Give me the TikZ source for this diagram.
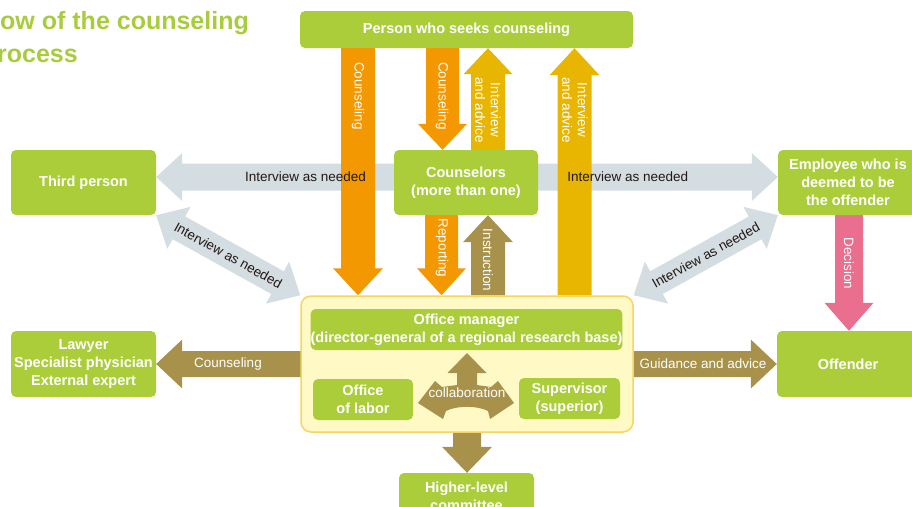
\documentclass[tikz,border=0pt]{standalone}
\usepackage{fontspec}
\setmainfont{Liberation Sans}
\usetikzlibrary{calc,backgrounds}
\definecolor{gbox}{HTML}{ABCD3A}
\definecolor{ttl}{HTML}{A9CC3D}
\definecolor{orng}{HTML}{F39800}
\definecolor{gold}{HTML}{E8B600}
\definecolor{tanc}{HTML}{A8924B}
\definecolor{gry}{HTML}{D4DDE2}
\definecolor{pnk}{HTML}{EA6E8E}
\definecolor{yfill}{HTML}{FFF9C6}
\definecolor{yline}{HTML}{F8D462}
\definecolor{ink}{HTML}{231815}
% #1 colour, #2 from, #3 to (tip), #4 half shaft, #5 half head, #6 head length
\newcommand\blockarr[6]{%
  \coordinate (bac) at ($(#3)!#6!(#2)$);
  \fill[#1] ($(#2)!#4!90:(#3)$) -- ($(bac)!#4!90:(#3)$) -- ($(bac)!#5!90:(#3)$) -- (#3)
    -- ($(bac)!#5!-90:(#3)$) -- ($(bac)!#4!-90:(#3)$) -- ($(#2)!#4!-90:(#3)$) -- cycle;}
\newcommand\dblockarr[6]{%
  \coordinate (bac) at ($(#3)!#6!(#2)$);
  \coordinate (bad) at ($(#2)!#6!(#3)$);
  \fill[#1] (#2) -- ($(bad)!#5!90:(#3)$) -- ($(bad)!#4!90:(#3)$) -- ($(bac)!#4!90:(#3)$)
    -- ($(bac)!#5!90:(#3)$) -- (#3) -- ($(bac)!#5!-90:(#3)$) -- ($(bac)!#4!-90:(#3)$)
    -- ($(bad)!#4!-90:(#3)$) -- ($(bad)!#5!-90:(#3)$) -- cycle;}
\begin{document}
\begin{tikzpicture}[x=1pt,y=-1pt,
  gb/.style={fill=gbox, rounded corners=5pt, text=white, font=\fontsize{14.5}{18}\selectfont\bfseries, align=center, inner sep=0pt},
  wl/.style={text=white, font=\fontsize{13.5}{15.5}\selectfont, align=center, inner sep=0pt},
  bl/.style={text=ink, font=\fontsize{13.5}{15.5}\selectfont, inner sep=0pt},
  vl/.style={wl, rotate=-90},
  ttlstyle/.style={anchor=base west, inner sep=0pt, text=ttl, font=\fontsize{25}{30}\selectfont\bfseries}]
\useasboundingbox (0,0) rectangle (912,506);
\clip (0,0) rectangle (912,506);

% title
\node[ttlstyle] (t1) at (0,29) {ow of the counseling};
\node[ttlstyle] (t2) at (-3,62) {rocess};

% boxes
\node[gb, minimum width=333pt, minimum height=37pt] (person) at (466.5,29.5) {Person who seeks counseling};
\node[gb, minimum width=144pt, minimum height=65pt] (couns) at (466,182.5) {Counselors\\(more than one)};
\node[gb, minimum width=145pt, minimum height=65pt] (third) at (83.5,182.5) {Third person};
\node[gb, minimum width=140pt, minimum height=65pt] (empl) at (848,182.5) {Employee who is\\deemed to be\\the offender};
\node[gb, minimum width=145pt, minimum height=66pt] (lawyer) at (83.5,364) {Lawyer\\Specialist physician\\External expert};
\node[gb, minimum width=142pt, minimum height=66pt] (offender) at (848,364) {Offender};
\node[gb, minimum width=135pt, minimum height=46pt] (higher) at (466.5,496) {Higher-level\\committee};
\node[fill=yfill, draw=yline, line width=1.5pt, rounded corners=10pt, minimum width=332pt, minimum height=136pt, inner sep=0pt] (yel) at (467,364) {};
\node[gb, minimum width=307pt, minimum height=41pt] (mgr) at (466.5,329.5) {Office manager\\(director-general of a regional research base)};
\node[gb, minimum width=100pt, minimum height=41pt] (labor) at (363,399.5) {Office\\of labor};
\node[gb, minimum width=101pt, minimum height=41pt] (sup) at (569.5,398.5) {Supervisor\\(superior)};

% collaboration three-way arrow
\fill[tanc] (467,353) -- (486.5,373) -- (477,373) -- (477,385) -- (491,387) -- (498,381) -- (514,403)
  -- (490,419) -- (488,411) .. controls (478,405.5) and (456,405.5) .. (446,411) -- (443,419)
  -- (418,403) -- (435,381) -- (442,387) -- (457,385) -- (457,373) -- (447.5,373) -- cycle;
\node[wl] (collab) at (467,393) {collaboration};

% x / y guides
\coordinate (xA) at (358,0);
\coordinate (xB) at (442.5,0);
\coordinate (xC) at (488,0);
\coordinate (xD) at (574.5,0);
\coordinate (xE) at (441.5,0);
\coordinate (xF) at (849,0);
\coordinate (xG) at (467,0);
\coordinate (yG) at (0,177);

\begin{pgfonlayer}{background}
  % gray
  \coordinate (g1s) at (couns.center |- yG);
  \coordinate (g1e) at (third.east |- yG);
  \coordinate (g2e) at (empl.west |- yG);
  \blockarr{gry}{g1s}{g1e}{13.5pt}{24pt}{26pt}
  \blockarr{gry}{g1s}{g2e}{13.5pt}{24pt}{26pt}
  \dblockarr{gry}{third.south east}{yel.north west}{13pt}{24pt}{26pt}
  \dblockarr{gry}{empl.south west}{yel.north east}{13pt}{24pt}{26pt}
  % orange counseling (left)
  \coordinate (a1s) at (person.south -| xA);
  \coordinate (a1e) at (yel.north -| xA);
  \blockarr{orng}{a1s}{a1e}{17pt}{25pt}{27pt}
  % orange counseling (middle)
  \coordinate (a2s) at (person.south -| xB);
  \coordinate (a2e) at (couns.north -| xB);
  \blockarr{orng}{a2s}{a2e}{16.5pt}{24.5pt}{26pt}
  % gold interview (middle)
  \coordinate (a3s) at (couns.north -| xC);
  \coordinate (a3e) at (person.south -| xC);
  \blockarr{gold}{a3s}{a3e}{17pt}{24.5pt}{26pt}
  % gold interview (right)
  \coordinate (a4s) at (yel.north -| xD);
  \coordinate (a4e) at (person.south -| xD);
  \blockarr{gold}{a4s}{a4e}{17pt}{25pt}{27pt}
  % reporting
  \coordinate (a5s) at (couns.south -| xE);
  \coordinate (a5e) at (yel.north -| xE);
  \blockarr{orng}{a5s}{a5e}{16.5pt}{24.5pt}{27pt}
  % instruction
  \coordinate (a6s) at (yel.north -| xC);
  \coordinate (a6e) at (couns.south -| xC);
  \blockarr{tanc}{a6s}{a6e}{17pt}{25pt}{27pt}
  % decision
  \coordinate (a7s) at (empl.south -| xF);
  \coordinate (a7e) at (offender.north -| xF);
  \blockarr{pnk}{a7s}{a7e}{14pt}{24.5pt}{28pt}
  % counseling to lawyer, guidance to offender
  \blockarr{tanc}{yel.center}{lawyer.east}{13pt}{24.5pt}{26pt}
  \blockarr{tanc}{yel.center}{offender.west}{13pt}{24.5pt}{26pt}
  % down to committee
  \coordinate (a8s) at (yel.south -| xG);
  \coordinate (a8e) at (higher.north -| xG);
  \blockarr{tanc}{a8s}{a8e}{14pt}{25pt}{26pt}
\end{pgfonlayer}

% labels
\path (couns.center |- yG) -- node[bl, pos=0.518] (lg1) {Interview as needed} (third.east |- yG);
\path (couns.center |- yG) -- node[bl, pos=0.519] (lg2) {Interview as needed} (empl.west |- yG);
\path (third.south east) -- node[bl, sloped] (lg3) {Interview as needed} (yel.north west);
\path (yel.north east) -- node[bl, sloped] (lg4) {Interview as needed} (empl.south west);
\node[vl] (l1) at (358,96) {Counseling};
\node[vl] (l2) at (442,96) {Counseling};
\node[vl] (l3) at (488,110) {Interview\\and advice};
\node[vl] (l4) at (575,110) {Interview\\and advice};
\node[vl] (l5) at (442,248) {Reporting};
\node[vl] (l6) at (488,260) {Instruction};
\node[vl] (l7) at (849,263.5) {Decision};
\node[wl] (l8) at (228,364) {Counseling};
\node[wl] (l9) at (703,364) {Guidance and advice};
\end{tikzpicture}
\end{document}
